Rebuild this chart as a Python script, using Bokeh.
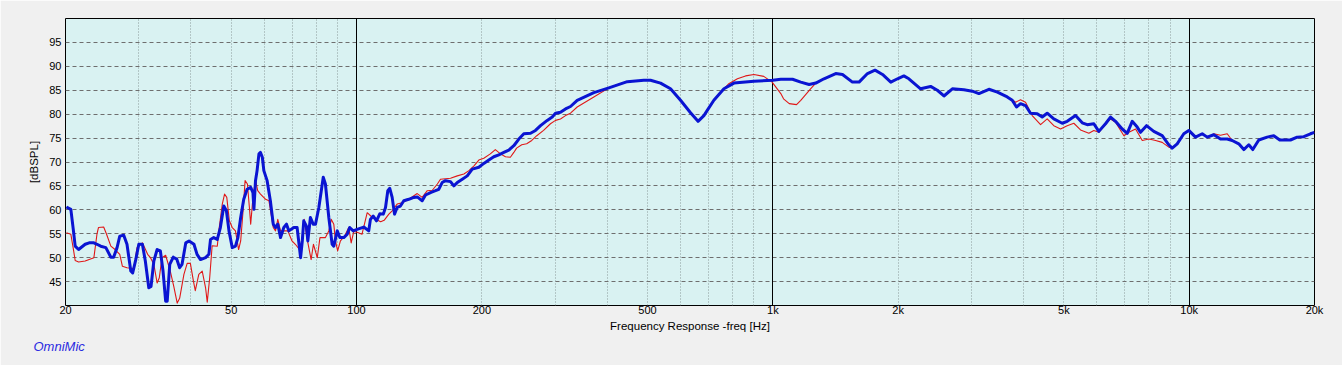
from bokeh.plotting import figure
from bokeh.models import FixedTicker, Grid, Title
from bokeh.embed import file_html
from bokeh.resources import INLINE

# ---------------- data ----------------
x_tick_values = [20, 50, 100, 200, 500, 1000, 2000, 5000, 10000, 20000]
x_tick_labels = ["20", "50", "100", "200", "500", "1k", "2k", "5k", "10k", "20k"]
x_minor_lines = [30, 40, 50, 60, 70, 80, 90, 200, 300, 400, 500, 600, 700, 800, 900,
                 2000, 3000, 4000, 5000, 6000, 7000, 8000, 9000]
x_decade_lines = [100, 1000, 10000]
y_ticks = [45, 50, 55, 60, 65, 70, 75, 80, 85, 90, 95]

blue_hz = [20.1, 20.6, 20.9, 21.1, 21.5, 22.3, 22.8, 23.4, 23.8, 24.3,
           25.0, 25.7, 26.1, 26.6, 27.0, 27.6, 28.1, 28.7, 29.0, 29.5,
           30.0, 30.6, 31.1, 31.7, 32.1, 32.6, 33.2, 33.8, 34.3, 34.8,
           35.1, 35.6, 36.3, 37.0, 37.6, 38.1, 38.9, 39.6, 40.7, 41.4,
           42.2, 43.4, 44.2, 44.6, 45.4, 46.3, 47.1, 48.0, 48.7, 49.4,
           50.3, 51.2, 51.9, 52.7, 53.6, 54.6, 55.7, 56.4, 56.7, 57.2,
           57.7, 58.3, 58.8, 59.4, 59.9, 61.0, 62.1, 63.1, 63.9, 64.7,
           65.7, 66.9, 67.9, 68.8, 70.7, 72.0, 73.4, 74.1, 74.7, 75.8,
           76.4, 77.5, 78.7, 79.7, 81.2, 83.2, 84.2, 85.8, 87.4, 88.2,
           89.9, 91.2, 93.2, 95.0, 96.3, 98.2, 100.3, 104.1, 107.0, 108.0,
           109.7, 111.7, 113.8, 116.0, 117.4, 118.9, 120.2, 121.8, 123.4, 125.2,
           127.5, 129.9, 133.5, 137.3, 139.9, 143.8, 146.5, 150.6, 154.8, 157.6,
           160.6, 163.6, 168.2, 171.3, 174.6, 179.5, 184.5, 189.7, 196.7, 202.2,
           207.9, 213.7, 219.7, 225.9, 232.2, 238.7, 245.4, 252.3, 261.8, 269.1,
           276.7, 287.1, 295.2, 300.6, 309.0, 317.7, 326.6, 338.9, 371.6, 403.8,
           447.1, 489.9, 508.4, 537.3, 567.9, 600.2, 634.3, 661.2, 683.0, 695.8,
           721.7, 763.0, 806.4, 900.6, 999.7, 1045, 1115, 1167, 1222, 1268,
           1327, 1416, 1470, 1553, 1611, 1688, 1760, 1834, 1920, 1993,
           2064, 2122, 2264, 2393, 2484, 2576, 2699, 2877, 3014, 3126,
           3304, 3462, 3656, 3758, 3848, 3935, 4045, 4158, 4315, 4436,
           4560, 4730, 4955, 5094, 5334, 5535, 5690, 5902, 6067, 6296,
           6473, 6654, 6905, 7099, 7298, 7502, 7641, 7898, 8223, 8614,
           8935, 9104, 9359, 9707, 9979, 10357, 10748, 11049, 11461, 11893,
           12341, 12687, 13157, 13527, 13906, 14217, 14696, 15395, 15966, 16505,
           17511, 18173, 18850, 19560, 20000]
blue_db = [60.6, 60.1, 55.6, 52.4, 51.7, 52.8, 53.1, 53.1, 52.8, 52.4,
           52.1, 50.1, 50.1, 52.1, 54.5, 54.7, 52.8, 47.2, 46.8, 49.6,
           52.8, 52.8, 49.3, 43.7, 44.0, 49.3, 51.7, 51.4, 47.2, 40.9,
           40.9, 48.6, 50.1, 49.7, 47.9, 48.6, 53.1, 53.5, 52.8, 50.7,
           49.6, 50.0, 50.7, 53.8, 54.2, 53.8, 56.3, 60.8, 59.8, 55.6,
           52.1, 52.4, 54.2, 58.4, 62.2, 64.3, 64.7, 63.6, 60.1, 66.1,
           68.2, 71.7, 72.0, 71.0, 68.2, 66.1, 61.9, 57.0, 56.3, 57.0,
           54.2, 56.3, 57.0, 55.6, 56.3, 56.3, 50.0, 53.5, 57.7, 56.6,
           53.5, 58.4, 57.0, 57.0, 60.5, 66.8, 65.4, 58.4, 52.8, 52.4,
           55.6, 54.2, 54.2, 54.9, 56.3, 55.6, 55.9, 56.4, 55.6, 58.0,
           58.7, 57.7, 59.2, 59.1, 60.5, 64.0, 64.5, 62.6, 59.1, 60.5,
           60.8, 61.9, 62.2, 62.6, 62.7, 61.9, 63.1, 63.6, 64.0, 64.3,
           65.7, 66.1, 65.9, 65.0, 65.7, 66.4, 67.1, 68.5, 68.9, 69.7,
           70.4, 71.1, 71.5, 72.0, 72.5, 73.4, 74.8, 75.9, 76.0, 76.6,
           77.6, 78.7, 79.4, 80.2, 80.4, 81.1, 81.6, 82.9, 84.5, 85.5,
           86.8, 87.1, 87.1, 86.5, 85.3, 82.9, 80.3, 78.5, 79.7, 80.8,
           82.9, 85.3, 86.5, 86.9, 87.1, 87.3, 87.3, 86.7, 86.2, 86.5,
           87.4, 88.5, 88.3, 86.7, 86.7, 88.5, 89.2, 88.3, 86.7, 87.4,
           88.0, 87.4, 85.3, 85.8, 85.0, 83.8, 85.3, 85.1, 84.8, 84.3,
           85.2, 84.6, 83.6, 82.9, 81.5, 82.2, 81.8, 80.2, 80.1, 79.4,
           80.2, 79.0, 78.1, 78.5, 79.7, 78.2, 77.8, 78.0, 76.4, 78.0,
           79.4, 78.5, 76.9, 76.0, 78.5, 77.3, 76.2, 77.6, 76.4, 75.5,
           73.6, 72.9, 73.8, 75.9, 76.6, 75.2, 75.9, 75.2, 75.7, 74.8,
           74.8, 74.5, 73.8, 72.6, 73.6, 72.6, 74.6, 75.2, 75.5, 74.6,
           74.6, 75.2, 75.3, 75.9, 76.2]

red_hz = [20.1, 20.6, 20.9, 21.1, 21.5, 22.3, 23.4, 23.8, 24.0, 24.7,
          25.1, 25.7, 26.3, 27.0, 27.4, 28.1, 29.2, 29.7, 30.6, 31.5,
          32.0, 32.6, 33.2, 33.6, 34.1, 34.8, 35.7, 36.4, 37.1, 37.6,
          38.5, 39.2, 39.9, 40.6, 41.0, 41.8, 42.6, 43.4, 43.8, 44.4,
          45.0, 46.3, 46.7, 47.6, 48.2, 48.8, 49.5, 50.3, 51.2, 52.1,
          52.7, 53.4, 54.0, 54.7, 55.3, 55.7, 56.4, 57.2, 57.9, 58.8,
          60.5, 61.6, 62.1, 63.1, 63.9, 64.7, 65.7, 68.4, 70.0, 71.3,
          73.4, 74.9, 76.0, 77.8, 78.8, 80.5, 81.7, 84.2, 85.8, 87.0,
          88.2, 89.0, 90.1, 91.5, 93.6, 95.8, 97.1, 98.5, 100.3, 103.1,
          106.1, 109.2, 114.3, 116.5, 119.6, 121.8, 125.2, 128.7, 133.5, 139.9,
          143.8, 147.9, 152.1, 156.4, 159.1, 168.2, 174.6, 181.1, 186.2, 191.5,
          196.7, 202.2, 209.6, 215.5, 221.7, 227.9, 234.2, 238.7, 242.4, 249.4,
          256.3, 263.6, 271.0, 281.4, 292.3, 300.6, 309.0, 317.7, 326.6, 338.9,
          371.6, 407.4, 447.1, 489.9, 508.4, 537.3, 567.9, 600.2, 634.3, 661.2,
          683.0, 695.8, 721.7, 763.0, 782, 822, 860, 900.6, 951, 996,
          1045, 1061, 1095, 1140, 1167, 1232, 1268, 1327, 1416, 1470,
          1553, 1611, 1688, 1760, 1834, 1920, 1993, 2064, 2122, 2264,
          2393, 2484, 2576, 2699, 2877, 3014, 3126, 3304, 3462, 3656,
          3758, 3828, 3935, 4045, 4198, 4396, 4560, 4730, 4910, 5094,
          5284, 5484, 5742, 5902, 6067, 6356, 6473, 6654, 6970, 7164,
          7434, 7716, 8004, 8306, 8614, 8935, 9104, 9359, 9707, 9979,
          10357, 10748, 11049, 11461, 11893, 12341, 12687, 13157, 13527, 13906,
          14217, 14696, 15395, 15966, 16505, 17511, 18173, 18850, 19560, 20000]
red_db = [55.2, 54.9, 51.7, 49.4, 49.1, 49.3, 50.0, 54.9, 56.3, 56.4,
          54.9, 52.4, 51.7, 50.7, 48.2, 47.9, 47.7, 52.1, 53.1, 50.7,
          50.0, 48.6, 44.7, 45.8, 50.0, 50.5, 47.2, 44.0, 40.5, 41.5,
          46.5, 48.8, 48.8, 45.0, 43.1, 46.5, 47.2, 43.7, 40.7, 45.8,
          52.5, 52.4, 55.6, 61.2, 63.3, 62.6, 57.7, 56.3, 55.6, 51.7,
          53.5, 59.8, 66.1, 65.4, 60.5, 57.0, 62.6, 66.2, 64.0, 63.3,
          62.2, 61.9, 60.1, 56.3, 55.6, 58.0, 55.6, 55.6, 53.5, 52.8,
          51.4, 58.0, 54.2, 49.6, 52.8, 50.0, 54.2, 54.2, 55.6, 58.0,
          57.0, 53.5, 51.4, 53.5, 54.5, 56.3, 53.1, 55.5, 55.3, 54.9,
          59.4, 58.4, 57.5, 57.8, 59.1, 59.8, 61.2, 61.5, 62.2, 63.4,
          62.6, 64.0, 64.1, 65.4, 66.4, 66.6, 67.1, 67.5, 68.2, 69.2,
          70.4, 70.8, 71.7, 72.6, 71.7, 71.1, 71.0, 72.0, 72.9, 73.6,
          73.8, 74.5, 75.5, 76.6, 78.0, 78.7, 79.0, 79.7, 80.2, 81.5,
          83.6, 85.7, 86.8, 87.1, 87.1, 86.5, 85.3, 82.9, 80.3, 78.5,
          79.7, 80.8, 82.9, 85.3, 86.3, 87.4, 88.0, 88.3, 87.9, 86.7,
          84.3, 83.2, 82.2, 82.0, 82.9, 85.3, 86.5, 87.4, 88.5, 88.3,
          86.7, 86.7, 88.5, 89.2, 88.3, 86.7, 87.4, 88.0, 87.4, 85.3,
          85.8, 85.0, 83.8, 85.3, 85.1, 84.8, 84.3, 85.2, 84.6, 83.6,
          83.0, 82.5, 83.0, 82.5, 79.7, 77.8, 79.0, 77.6, 76.9, 77.6,
          78.1, 76.7, 76.0, 76.6, 76.2, 78.3, 79.0, 78.3, 75.5, 76.2,
          76.9, 74.5, 74.8, 74.5, 74.1, 73.1, 72.9, 73.8, 75.9, 76.6,
          75.2, 75.9, 75.2, 75.9, 75.6, 75.9, 74.5, 73.8, 72.6, 73.6,
          72.6, 74.6, 75.2, 75.5, 74.6, 74.6, 75.2, 75.3, 75.9, 76.2]

x_label = "Frequency Response -freq [Hz]"
y_label = "[dBSPL]"
brand = "OmniMic"

# ---------------- figure ----------------
FONT = "Liberation Sans"
p = figure(width=1342, height=365, x_axis_type="log",
           x_range=(20, 20000), y_range=(40, 100),
           output_backend="svg", toolbar_location=None,
           min_border_left=65, min_border_right=28,
           min_border_top=18, min_border_bottom=60)
p.background_fill_color = "#D9F2F2"
p.border_fill_color = "#F0F0F0"
p.outline_line_color = "black"
p.outline_line_width = 1

# axes
for ax in (p.xaxis[0], p.yaxis[0]):
    ax.major_tick_line_color = None
    ax.minor_tick_line_color = None
    ax.axis_line_color = None
    ax.major_tick_out = 0
    ax.major_tick_in = 0
    ax.major_label_text_font = FONT
    ax.major_label_text_font_size = "11px"
    ax.major_label_text_color = "#000000"
    ax.axis_label_text_font = FONT
    ax.axis_label_text_font_size = "11.5px"
    ax.axis_label_text_font_style = "normal"
    ax.axis_label_text_color = "#000000"

p.xaxis.ticker = FixedTicker(ticks=x_tick_values)
p.xaxis.major_label_overrides = {v: l for v, l in zip(x_tick_values, x_tick_labels)}
p.xaxis.major_label_standoff = -2
p.xaxis.axis_label = x_label
p.xaxis.axis_label_standoff = 1

p.yaxis.ticker = FixedTicker(ticks=y_ticks)
p.yaxis.major_label_standoff = 4
p.yaxis.axis_label = y_label
p.yaxis.axis_label_standoff = 6

# grids
p.xgrid.ticker = FixedTicker(ticks=x_minor_lines)
p.xgrid.grid_line_color = "#8A9A9A"
p.xgrid.grid_line_dash = "1 2"
p.xgrid.grid_line_width = 1

p.ygrid.ticker = FixedTicker(ticks=y_ticks)
p.ygrid.grid_line_color = "#6E6E6E"
p.ygrid.grid_line_dash = "4 3"
p.ygrid.grid_line_width = 1

decade_grid = Grid(dimension=0, ticker=FixedTicker(ticks=x_decade_lines),
                   grid_line_color="black", grid_line_width=1)
p.add_layout(decade_grid)

# curves
p.line(red_hz, red_db, line_color="#E01818", line_width=1.1, line_join="round")
p.line(blue_hz, blue_db, line_color="#0A14D2", line_width=3, line_join="round")

# brand text under the axis
p.add_layout(Title(text=brand, align="left", offset=-32, standoff=4,
                   text_font=FONT, text_font_size="13px", text_font_style="italic",
                   text_color="#2A2AE0"), "below")

open("out.html", "w").write(file_html(p, INLINE))
